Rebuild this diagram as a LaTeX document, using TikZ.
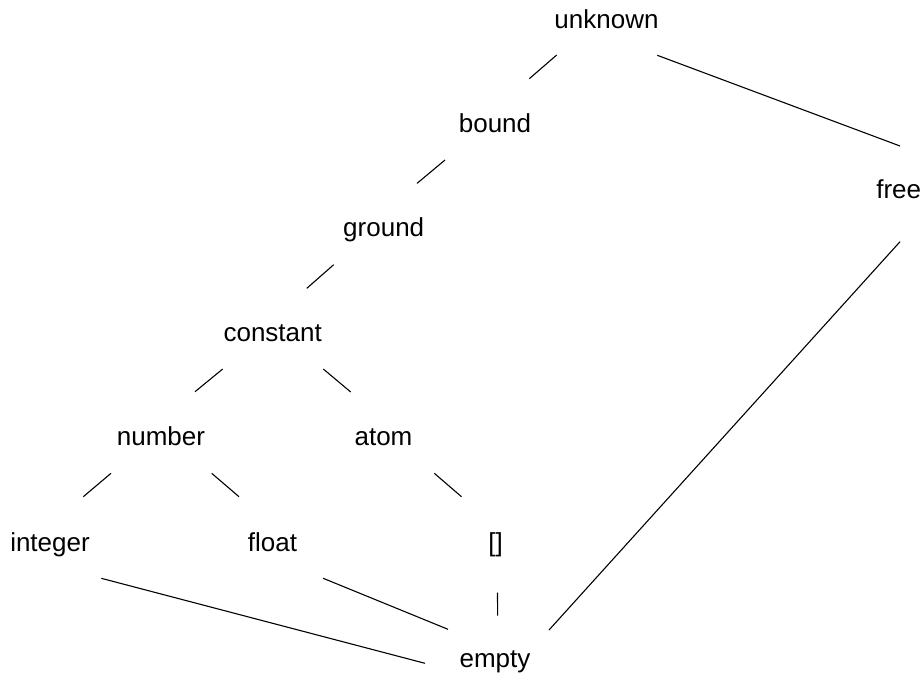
\documentclass[tikz,border=0pt]{standalone}
\usepackage{fontspec}
\setmainfont{Liberation Sans}
\usetikzlibrary{calc}
\tikzset{
  lbl/.style={inner sep=0pt, anchor=base, font=\fontsize{26}{30}\selectfont},
  edge/.style={line width=1.1pt, black}
}
\begin{document}
\begin{tikzpicture}[x=1pt,y=-1pt]
\useasboundingbox[fill=white] (0,0) rectangle (923,675);
\node[lbl] (unknown) at (606.5,28) {unknown};
\node[lbl] (bound) at (495,132) {bound};
\node[lbl] (free) at (898.7,198) {free};
\node[lbl] (ground) at (383.7,236.7) {ground};
\node[lbl] (constant) at (272.7,341.7) {constant};
\node[lbl] (number) at (161,445) {number};
\node[lbl] (atom) at (383.5,445) {atom};
\node[lbl] (integer) at (50,551) {integer};
\node[lbl] (float) at (272.5,551) {float};
\node[lbl] (nil) at (495.5,551) {[]};
\node[lbl] (empty) at (495,667) {empty};

\draw[edge] ($(unknown.base)+(-49.8,27)$) -- ($(bound.base)+(34.3,-53.3)$);
\draw[edge] ($(bound.base)+(-50,28)$) -- ($(ground.base)+(33.3,-53.3)$);
\draw[edge] ($(ground.base)+(-50,28)$) -- ($(constant.base)+(34,-53.3)$);
\draw[edge] ($(constant.base)+(-50,27.3)$) -- ($(number.base)+(34,-53.3)$);
\draw[edge] ($(constant.base)+(50.6,27.3)$) -- ($(atom.base)+(-32.8,-53)$);
\draw[edge] ($(number.base)+(-50,28.3)$) -- ($(integer.base)+(33.3,-54.3)$);
\draw[edge] ($(number.base)+(50.7,28.3)$) -- ($(float.base)+(-33.5,-54.3)$);
\draw[edge] ($(atom.base)+(50.8,28.3)$) -- ($(nil.base)+(-34,-54.3)$);
\draw[edge] ($(unknown.base)+(50.8,27.3)$) -- ($(free.base)+(1.3,-52)$);
\draw[edge] ($(free.base)+(1.3,43.7)$) -- ($(empty.base)+(54,-37)$);
\draw[edge] ($(integer.base)+(51.3,27.3)$) -- ($(empty.base)+(-70,-3.7)$);
\draw[edge] ($(float.base)+(50.7,27.3)$) -- ($(empty.base)+(-47,-37.7)$);
\draw[edge] ($(nil.base)+(2,41.7)$) -- ($(empty.base)+(2.6,-51.3)$);
\end{tikzpicture}
\end{document}
